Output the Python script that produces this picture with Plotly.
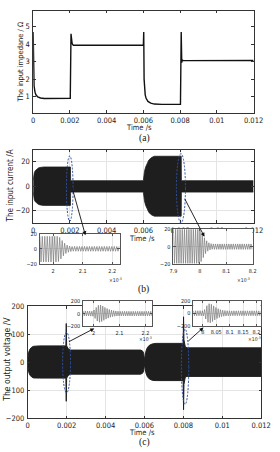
import plotly.graph_objects as go

# ---------------- data ----------------
# (a) input impedance (time in s, ohm)
T_A = [0, 0.00002, 0.00005, 0.0001, 0.00015, 0.00025, 0.0004, 0.0006, 0.002,
       0.00202, 0.00206, 0.00209, 0.00212, 0.00216, 0.0022, 0.006,
       0.00602, 0.00604, 0.00607, 0.0061, 0.00615, 0.00625, 0.0064, 0.0066, 0.007, 0.00799,
       0.00802, 0.00806, 0.00809, 0.00812, 0.00816, 0.012]
Z_A = [4.7, 2.8, 1.6, 1.25, 1.1, 0.98, 0.92, 0.89, 0.89,
       0.9, 4.6, 4.2, 4.05, 3.97, 3.94, 3.94,
       4.7, 2.0, 1.4, 1.1, 0.9, 0.72, 0.62, 0.57, 0.55, 0.55,
       0.56, 4.7, 2.95, 3.1, 3.06, 3.07]

# (b) input current envelope (A)
T_B = [0, 0.00002, 0.00006, 0.00012, 0.0002, 0.0003, 0.00045, 0.0006, 0.00203, 0.00204,
       0.006, 0.00602, 0.00606, 0.00612, 0.0062, 0.0063, 0.00645, 0.0066, 0.00806, 0.00807, 0.012]
UP_B = [5, 8.5, 11, 12.8, 14, 15, 15.5, 15.7, 15.7, 4.5,
        4.5, 8, 12, 15.5, 18.5, 21.5, 23.5, 24.5, 24.5, 4.5, 4.5]
LO_B = [-5, -8.5, -11, -12.8, -14, -15, -15.5, -15.7, -15.7, -4.8,
        -4.8, -8, -12, -15.5, -18.5, -21.5, -23.5, -24.5, -24.5, -4.8, -4.8]

# (c) output voltage envelope (V)
T_C = [0, 0.00002, 0.00006, 0.00012, 0.0002, 0.0003, 0.00045, 0.0006,
       0.00196, 0.00198, 0.002, 0.0021, 0.0022,
       0.0058, 0.0059, 0.00596, 0.006, 0.00603, 0.00608, 0.00615, 0.00625, 0.0064, 0.0066,
       0.00799, 0.00801, 0.00803, 0.0081, 0.0082, 0.012]
UP_C = [12, 25, 38, 47, 53, 56.5, 58, 58,
        58, 138, 58, 46, 43,
        43, 40, 32, 8, 22, 40, 52, 60, 65, 67,
        67, 162, 80, 54, 51, 51]
LO_C = [-12, -25, -38, -47, -53, -56.5, -57, -57,
        -57, -140, -57, -46, -43,
        -43, -40, -32, -8, -22, -40, -52, -60, -65, -66,
        -66, -170, -80, -53, -51, -51]

# insets: successive half-cycle peak amplitudes (time in ms)
STEP = 0.0042
B1_T0 = 1.955
B1_AMP = [16.5, 17, 16.5, 17, 16.5, 17, 16.5, 17, 16.5, 17, 16.5, 17, 16.5, 17, 16.5, 16.5,
          15, 13, 11, 9, 7.5, 6, 5, 4.3, 3.8, 3.4,
          3.2, 3.0, 3.3, 3.1, 3.2, 3.0, 3.3, 3.1, 3.2, 3.0, 3.3, 3.1, 3.2, 3.0, 3.3, 3.1,
          3.2, 3.0, 3.3, 3.1, 3.2, 3.0, 3.3, 3.1, 3.2, 3.0, 3.3, 3.1, 3.2, 3.0, 3.3, 3.1,
          3.2, 3.0, 3.3, 3.1, 3.2, 3.0, 3.3]
B2_T0 = 7.9
B2_AMP = [19.5, 19, 19.5, 19, 19.5, 19, 19.5, 19, 19.5, 19, 19.5, 19,
          19.5, 19, 19.5, 19, 19.5, 19, 19.5, 19, 19.5, 19, 19.5, 19,
          18.5, 17, 15, 12.5, 10, 8, 6.5, 5.2, 4.3, 3.7, 3.3, 3.1,
          3.0, 3.2, 3.0, 3.2, 3.0, 3.2, 3.0, 3.2, 3.0, 3.2, 3.0, 3.2,
          3.0, 3.2, 3.0, 3.2, 3.0, 3.2, 3.0, 3.2, 3.0, 3.2, 3.0, 3.2,
          3.0, 3.2, 3.0, 3.2, 3.0, 3.2, 3.0, 3.2, 3.0, 3.2, 3.0, 3.2]
C1_T0 = 1.96
C1_AMP = [38, 36, 40, 37, 39, 36, 38, 40, 37, 42,
          55, 75, 95, 115, 128, 135, 132, 125, 115, 105, 95, 86, 78, 70, 63, 57, 52, 48, 45, 42, 40, 38, 37, 36,
          35, 37, 34, 36, 35, 37, 34, 36, 35, 36, 34, 37, 35, 36, 34, 36, 35, 37, 34, 36, 35, 36, 34, 37, 35, 36,
          34, 36, 35, 37]
C2_T0 = 7.965
C2_AMP = [40, 38, 41, 39, 40, 38, 42, 39, 40, 41,
          60, 90, 120, 142, 152, 150, 142, 130, 117, 104, 92, 82, 73, 65, 58, 53, 49, 46, 44, 42, 41, 40, 39, 39, 38,
          38, 40, 37, 39, 38, 40, 37, 39, 38, 40, 37, 39, 38, 40, 37, 39, 38, 40, 37, 39, 38, 40, 37, 39, 38, 40]

X_TICKS = [0, 0.002, 0.004, 0.006, 0.008, 0.01, 0.012]
X_TICKTEXT = ['0', '0.002', '0.004', '0.006', '0.008', '0.01', '0.012']

# ---------------- helpers ----------------
W, H = 280, 452
FONT = "Liberation Sans Narrow, DejaVu Sans Condensed, Liberation Sans, Arial, sans-serif"
SERIF = "Liberation Serif, Times New Roman, serif"


def px(x):
    return x / W


def py(y):
    return 1 - y / H


def zigzag(t0, amps):
    xs = [t0 + i * STEP for i in range(len(amps))]
    ys = [a if i % 2 == 0 else -a for i, a in enumerate(amps)]
    return xs, ys


def ax(size, grid, dom, rng, anchor, tickvals, ticktext=None, lw=0.8, lc='#333', standoff=1):
    d = dict(domain=dom, range=rng, anchor=anchor, showline=True, linecolor=lc, linewidth=lw,
             mirror='ticks', ticks='inside', ticklen=2.5, tickwidth=0.6, tickcolor=lc,
             showgrid=grid, gridcolor='#e4e4e4', gridwidth=0.6, zeroline=False,
             tickfont=dict(family=FONT, size=size, color='#222'), fixedrange=True,
             tickvals=tickvals, ticklabelstandoff=standoff)
    if ticktext is not None:
        d['ticktext'] = ticktext
    return d


fig = go.Figure()
BLACK = '#1e1e1e'
GREY = '#7a7a7a'

# (a)
fig.add_trace(go.Scatter(x=T_A, y=Z_A, mode='lines', line=dict(color='#111', width=1.4),
                         xaxis='x', yaxis='y', hoverinfo='skip'))
# (b)
fig.add_trace(go.Scatter(x=T_B, y=UP_B, mode='lines', line=dict(color=BLACK, width=0.8),
                         xaxis='x2', yaxis='y2', hoverinfo='skip'))
fig.add_trace(go.Scatter(x=T_B, y=LO_B, mode='lines', line=dict(color=BLACK, width=0.8),
                         fill='tonexty', fillcolor=BLACK, xaxis='x2', yaxis='y2', hoverinfo='skip'))
# (c)
fig.add_trace(go.Scatter(x=T_C, y=UP_C, mode='lines', line=dict(color=BLACK, width=1),
                         xaxis='x3', yaxis='y3', hoverinfo='skip'))
fig.add_trace(go.Scatter(x=T_C, y=LO_C, mode='lines', line=dict(color=BLACK, width=1),
                         fill='tonexty', fillcolor=BLACK, xaxis='x3', yaxis='y3', hoverinfo='skip'))
# insets
for (t0, amps, n) in [(B1_T0, B1_AMP, 4), (B2_T0, B2_AMP, 5), (C1_T0, C1_AMP, 6), (C2_T0, C2_AMP, 7)]:
    xs, ys = zigzag(t0, amps)
    fig.add_trace(go.Scatter(x=xs, y=ys, mode='lines', line=dict(color=GREY, width=0.7),
                             xaxis='x%d' % n, yaxis='y%d' % n, hoverinfo='skip'))

# axes layout
R_B1 = [1.955, 2.225]
R_B2 = [7.9, 8.2]
R_C1 = [1.96, 2.225]
R_C2 = [7.965, 8.215]
layout = dict(
    width=W, height=H, margin=dict(l=0, r=0, t=0, b=0),
    paper_bgcolor='white', plot_bgcolor='white', showlegend=False,
    xaxis=ax(7.5, False, [px(30.7), px(262.7)], [0, 0.012], 'y', X_TICKS, X_TICKTEXT, standoff=0),
    yaxis=ax(7.5, False, [py(111), py(6.7)], [0.07, 5.93], 'x', [1, 2, 3, 4, 5]),
    xaxis2=ax(7.5, True, [px(30.7), px(262.7)], [0, 0.012], 'y2', X_TICKS, X_TICKTEXT, standoff=0),
    yaxis2=ax(7.5, True, [py(223.3), py(148.5)], [-30, 30], 'x2', [-20, 0, 20]),
    xaxis3=ax(7.5, True, [px(25), px(270.7)], [0, 0.012], 'y3', X_TICKS, X_TICKTEXT, standoff=0),
    yaxis3=ax(7.5, True, [py(422.5), py(308.3)], [-200, 200], 'x3', [-200, -100, 0, 100, 200]),
    xaxis4=ax(5.5, True, [px(37.7), px(121.7)], R_B1, 'y4', [2, 2.1, 2.2], ['2', '2.1', '2.2'], 0.6, '#555'),
    yaxis4=ax(5.5, True, [py(265.5), py(234.3)], [-20, 20], 'x4', [-20, 0, 20], None, 0.6, '#555'),
    xaxis5=ax(5.5, True, [px(178.3), px(261.7)], R_B2, 'y5', [7.9, 8, 8.1, 8.2], ['7.9', '8', '8.1', '8.2'], 0.6, '#555'),
    yaxis5=ax(5.5, True, [py(265.5), py(229.5)], [-20, 20], 'x5', [-20, 0, 20], None, 0.6, '#555'),
    xaxis6=ax(5.5, True, [px(83.3), px(155.7)], R_C1, 'y6', [2, 2.1, 2.2], ['2', '2.1', '2.2'], 0.6, '#555'),
    yaxis6=ax(5.5, True, [py(329), py(302.7)], [-200, 200], 'x6', [-200, 0, 200], None, 0.6, '#555'),
    xaxis7=ax(5.5, True, [px(199.3), px(270)], R_C2, 'y7', [8, 8.05, 8.1, 8.15, 8.2],
              ['8', '8.05', '8.1', '8.15', '8.2'], 0.6, '#555'),
    yaxis7=ax(5.5, True, [py(328.5), py(302.7)], [-200, 200], 'x7', [-200, 0, 200], None, 0.6, '#555'),
)
fig.update_layout(**layout)

shapes = []
# white backgrounds for insets (drawn in the inset's own subplot layer)
for n, rx, ry in [(4, R_B1, [-20, 20]), (5, R_B2, [-20, 20]), (6, R_C1, [-200, 200]), (7, R_C2, [-200, 200])]:
    shapes.append(dict(type='rect', xref='x%d' % n, yref='y%d' % n, x0=rx[0], x1=rx[1], y0=ry[0], y1=ry[1],
                       fillcolor='white', line=dict(width=0), layer='below'))
# dashed ellipses
for (x0, x1, y0, y1) in [(65.7, 72.7, 155, 221.7), (181.5, 191, 152.7, 223.3),
                         (61.7, 70, 335, 396.7), (186.7, 194.5, 331.7, 408.5)]:
    shapes.append(dict(type='circle', xref='paper', yref='paper', x0=px(x0), x1=px(x1), y0=py(y1), y1=py(y0),
                       line=dict(color='#2f4f9f', width=1, dash='2px,1.5px'), layer='above'))
fig.update_layout(shapes=shapes)

ann = []
# arrows (head, tail)
for (hx, hy, tx, ty) in [(85.7, 236, 72.3, 188), (211, 237.5, 190.5, 198),
                         (95, 331, 68.3, 345), (210, 330, 193.3, 345)]:
    ann.append(dict(x=px(hx), y=py(hy), xref='paper', yref='paper', ax=tx - hx, ay=ty - hy,
                    text='', showarrow=True, arrowhead=2, arrowsize=0.9, arrowwidth=0.9,
                    arrowcolor='#111', standoff=0, startstandoff=0))
# titles
def txt(x, y, s, size, angle=0, family=FONT, color='#222'):
    ann.append(dict(x=px(x), y=py(y), xref='paper', yref='paper', text=s, showarrow=False,
                    textangle=angle, font=dict(family=family, size=size, color=color),
                    xanchor='center', yanchor='middle'))

txt(17.5, 59, 'The input impedane / Ω', 7.5, -90)
txt(6.5, 186, 'The input current /A', 8, -90)
txt(3, 362, 'The output voltage /V', 8.5, -90)
txt(142, 126.5, 'Time /s', 7.5)
txt(145, 239.5, 'Time /s', 7.5)
txt(145, 437.5, 'Time /s', 7.5)
txt(148, 137, '(a)', 9.5, 0, SERIF, '#111')
txt(147, 291, '(b)', 9.5, 0, SERIF, '#111')
txt(148, 447.5, '(c)', 9.5, 0, SERIF, '#111')
for (x, y) in [(117, 281.5), (252, 281.5), (149, 342), (264, 342)]:
    txt(x, y, '×10<sup>-3</sup>', 5)
fig.update_layout(annotations=ann)

fig.write_html("out.html")
